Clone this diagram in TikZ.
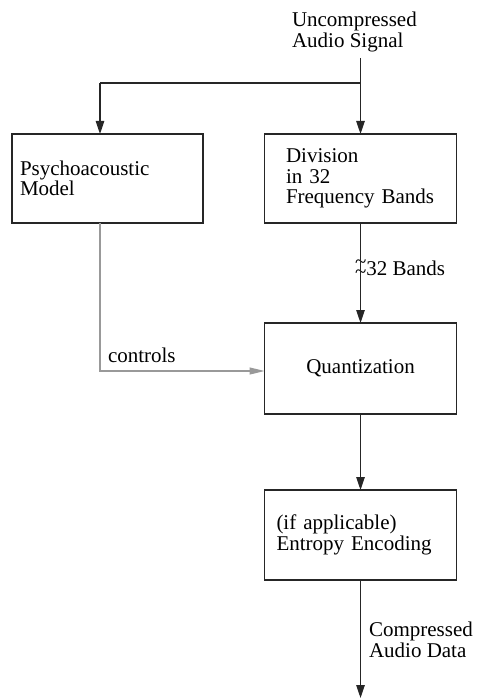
\documentclass[tikz,border=0pt]{standalone}
\usepackage{fontspec}
\setmainfont{Liberation Serif}
\usetikzlibrary{arrows.meta}
\newcommand{\stackedtilde}{\makebox[0pt][l]{\raisebox{6.5pt}{\char`~}}\raisebox{-3pt}{\char`~}}
\begin{document}
\begin{tikzpicture}[x=1pt,y=-1pt,
  every node/.style={font=\fontsize{21}{20.5}\selectfont, inner sep=0pt, outer sep=0pt},
  boxnode/.style={draw=black!85, line width=1.2pt, rectangle, minimum height=89pt},
  lbl/.style={align=left},
  flow/.style={draw=black!85, line width=1.2pt, -{Triangle[length=13pt,width=8.5pt]}},
  plainline/.style={draw=black!85, line width=1.2pt},
  ctrl/.style={draw=black!40, line width=1.2pt, -{Triangle[length=15pt,width=7pt]}}]
\useasboundingbox (0,0) rectangle (477,700);

\node[boxnode, inner xsep=8pt, text width=175pt, align=left] (psy) at (107.5,178.5) {Psychoacoustic\\Model};
\node[boxnode, inner xsep=21.5pt, text width=149pt, align=left] (div) at (360.5,178.5) {Division\\in 32\\Frequency Bands};
\node[boxnode, minimum width=192pt, minimum height=91pt, align=center] (quant) at (360.5,368.5) {Quantization};
\node[boxnode, inner xsep=12pt, text width=168pt, align=left, minimum height=90pt] (ent) at (360.5,535) {(if applicable)\\Entropy Encoding};

\node[lbl, anchor=north west] (inp) at (292,12) {Uncompressed\\Audio Signal};
\node[lbl, anchor=north west] (outl) at (369,622) {Compressed\\Audio Data};
\node[anchor=base west] (ctl) at (108,362.5) {controls};
\node[anchor=base west] (bands) at (355,275) {\stackedtilde 32 Bands};

\coordinate (top) at (360.5,58);
\coordinate (j) at (360.5,83);
\coordinate (jl) at (100,83);
\coordinate (out) at (360.5,698);

\draw[plainline] (top) -- (j) -- (jl);
\draw[flow] (jl) -- (jl |- psy.north);
\draw[flow] (j) -- (div.north);
\draw[flow] (div.south) -- (quant.north);
\draw[flow] (quant.south) -- (ent.north);
\draw[flow] (ent.south) -- (out);
\draw[ctrl] (jl |- psy.south) |- ([yshift=-2.5pt]quant.west);
\end{tikzpicture}
\end{document}
